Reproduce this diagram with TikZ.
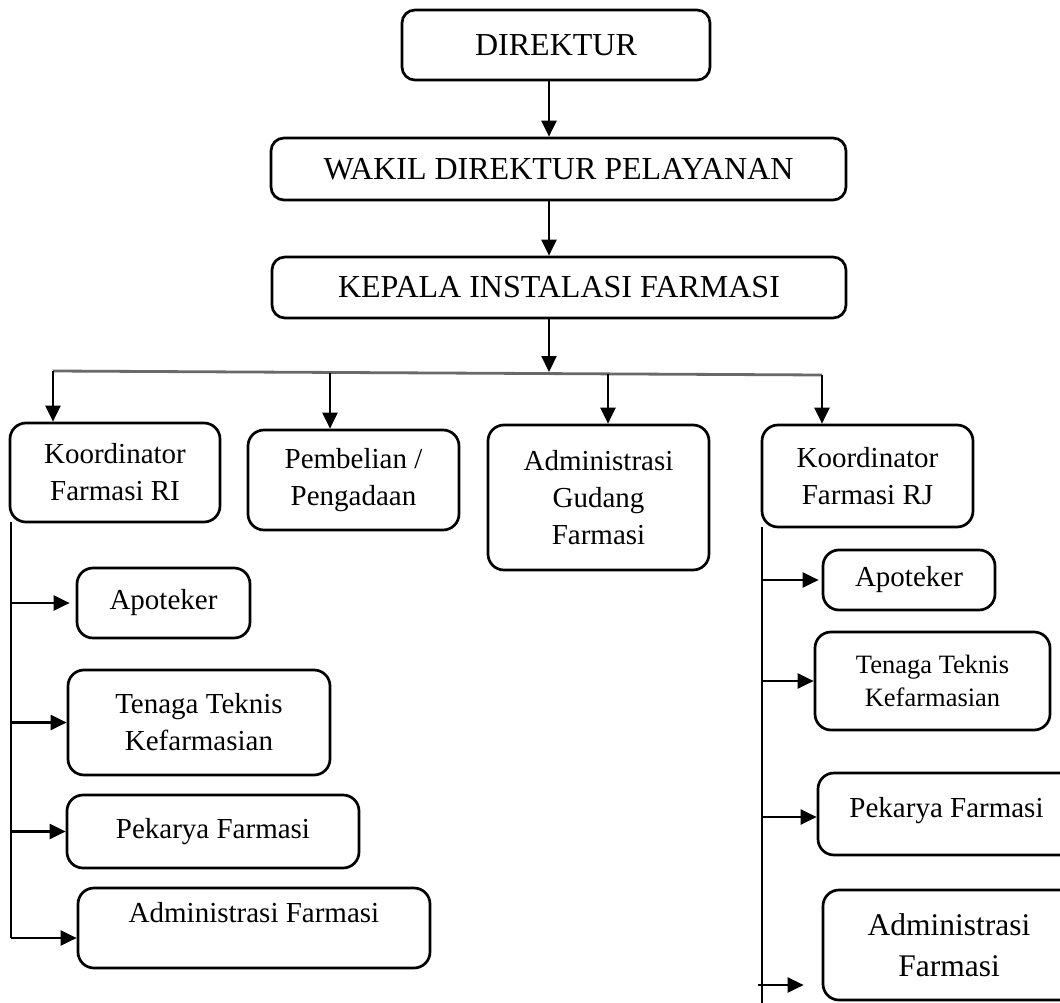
\documentclass[tikz,border=0pt]{standalone}
\usepackage{fontspec}
\setmainfont{Liberation Serif}
\usetikzlibrary{arrows.meta}

\tikzset{
  box/.style={draw, line width=2.7pt, rounded corners=16pt, align=center, inner sep=0pt,
    font=\fontsize{29}{37}\selectfont},
  topbox/.style={box, rounded corners=13pt, font=\fontsize{32}{38}\selectfont},
  link/.style={line width=2.2pt, -{Triangle[length=16pt,width=15pt]}},
  stem/.style={line width=2pt},
}
\definecolor{garis}{RGB}{105,105,105}

\begin{document}
\begin{tikzpicture}[x=1pt,y=-1pt]
        \useasboundingbox (0,0) rectangle (1060,1003);

        % pimpinan
        \node[topbox, minimum width=308pt, minimum height=70pt] (Dir) at (556,45) {DIREKTUR};
        \node[topbox, minimum width=575pt, minimum height=62pt] (WDir) at (558.5,169) {WAKIL DIREKTUR PELAYANAN};
        \node[topbox, minimum width=574pt, minimum height=61pt] (KIF) at (559,287.5) {KEPALA INSTALASI FARMASI};

        \coordinate (ax) at (549,372);
        \draw[link] (Dir.south -| ax) -- (WDir.north -| ax);
        \draw[link] (WDir.south -| ax) -- (KIF.north -| ax);
        \draw[link] (KIF.south -| ax) -- (ax);

        % garis pembagi
        \coordinate (hL) at (53,371);
        \coordinate (hR) at (822,375);
        \coordinate (dPP) at (330,372.5);
        \coordinate (dAGF) at (608,373.5);
        \draw[garis, line width=2.8pt] (hL) -- (hR);

        % baris kedua
        \node[box, minimum width=210pt, minimum height=99pt] (KRI) at (115,472.5) {Koordinator\\Farmasi RI};
        \node[box, minimum width=211pt, minimum height=100pt] (PP) at (353.5,480) {Pembelian /\\Pengadaan};
        \node[box, minimum width=221pt, minimum height=145pt] (AGF) at (598.5,497.5) {Administrasi\\Gudang\\Farmasi};
        \node[box, minimum width=211pt, minimum height=102pt] (KRJ) at (867.5,476) {Koordinator\\Farmasi RJ};

        \draw[link] (hL) -- (hL |- KRI.north);
        \draw[link] (dPP) -- (dPP |- PP.north);
        \draw[link] (dAGF) -- (dAGF |- AGF.north);
        \draw[link] (hR) -- (hR |- KRJ.north);

        % farmasi rawat inap
        \node[box, minimum width=173pt, minimum height=70pt] (Ap1) at (163.5,603) {Apoteker};
        \node[box, minimum width=262pt, minimum height=105pt] (TTK1) at (199,722.5) {Tenaga Teknis\\Kefarmasian};
        \node[box, minimum width=292pt, minimum height=73pt] (PF1) at (213,831.5) {Pekarya Farmasi};
        \node[box, minimum width=352pt, minimum height=80pt, text height=20pt, text depth=32pt] (AF1) at (254,928) {Administrasi Farmasi};

        \coordinate (vL) at (11,522);
        \coordinate (vLe) at (11,938);
        \draw[stem] (vL) -- (vLe);
        \draw[link] (vL |- Ap1.west) -- ([xshift=-6pt]Ap1.west);
        \draw[link] (vL |- TTK1.west) -- (TTK1.west);
        \draw[link] (vL |- PF1.west) -- (PF1.west);
        \draw[link] (vLe) -- (vLe -| AF1.west);

        % farmasi rawat jalan
        \node[box, minimum width=172pt, minimum height=60pt] (Ap2) at (909,580) {Apoteker};
        \node[box, minimum width=235pt, minimum height=98pt, font=\fontsize{26.5}{33}\selectfont] (TTK2) at (932.5,681) {Tenaga Teknis\\Kefarmasian};
        \node[box, minimum width=257pt, minimum height=82pt, text height=20pt, text depth=14pt] (PF2) at (946.5,814) {Pekarya Farmasi};
        \node[box, minimum width=252pt, minimum height=110pt, font=\fontsize{31.5}{41}\selectfont] (AF2) at (949,945) {Administrasi\\Farmasi};

        \coordinate (vR) at (762,527);
        \coordinate (vRe) at (762,1003);
        \coordinate (aR) at (758,985);
        \draw[stem] (vR) -- (vRe);
        \draw[link] (vR |- Ap2.west) -- ([xshift=-3pt]Ap2.west);
        \draw[link] (vR |- TTK2.west) -- (TTK2.west);
        \draw[link] (vR |- 0,817) -- (PF2.west |- 0,817);
        \draw[link] (aR) -- ([xshift=-18pt]aR -| AF2.west);

\end{tikzpicture}
\end{document}
